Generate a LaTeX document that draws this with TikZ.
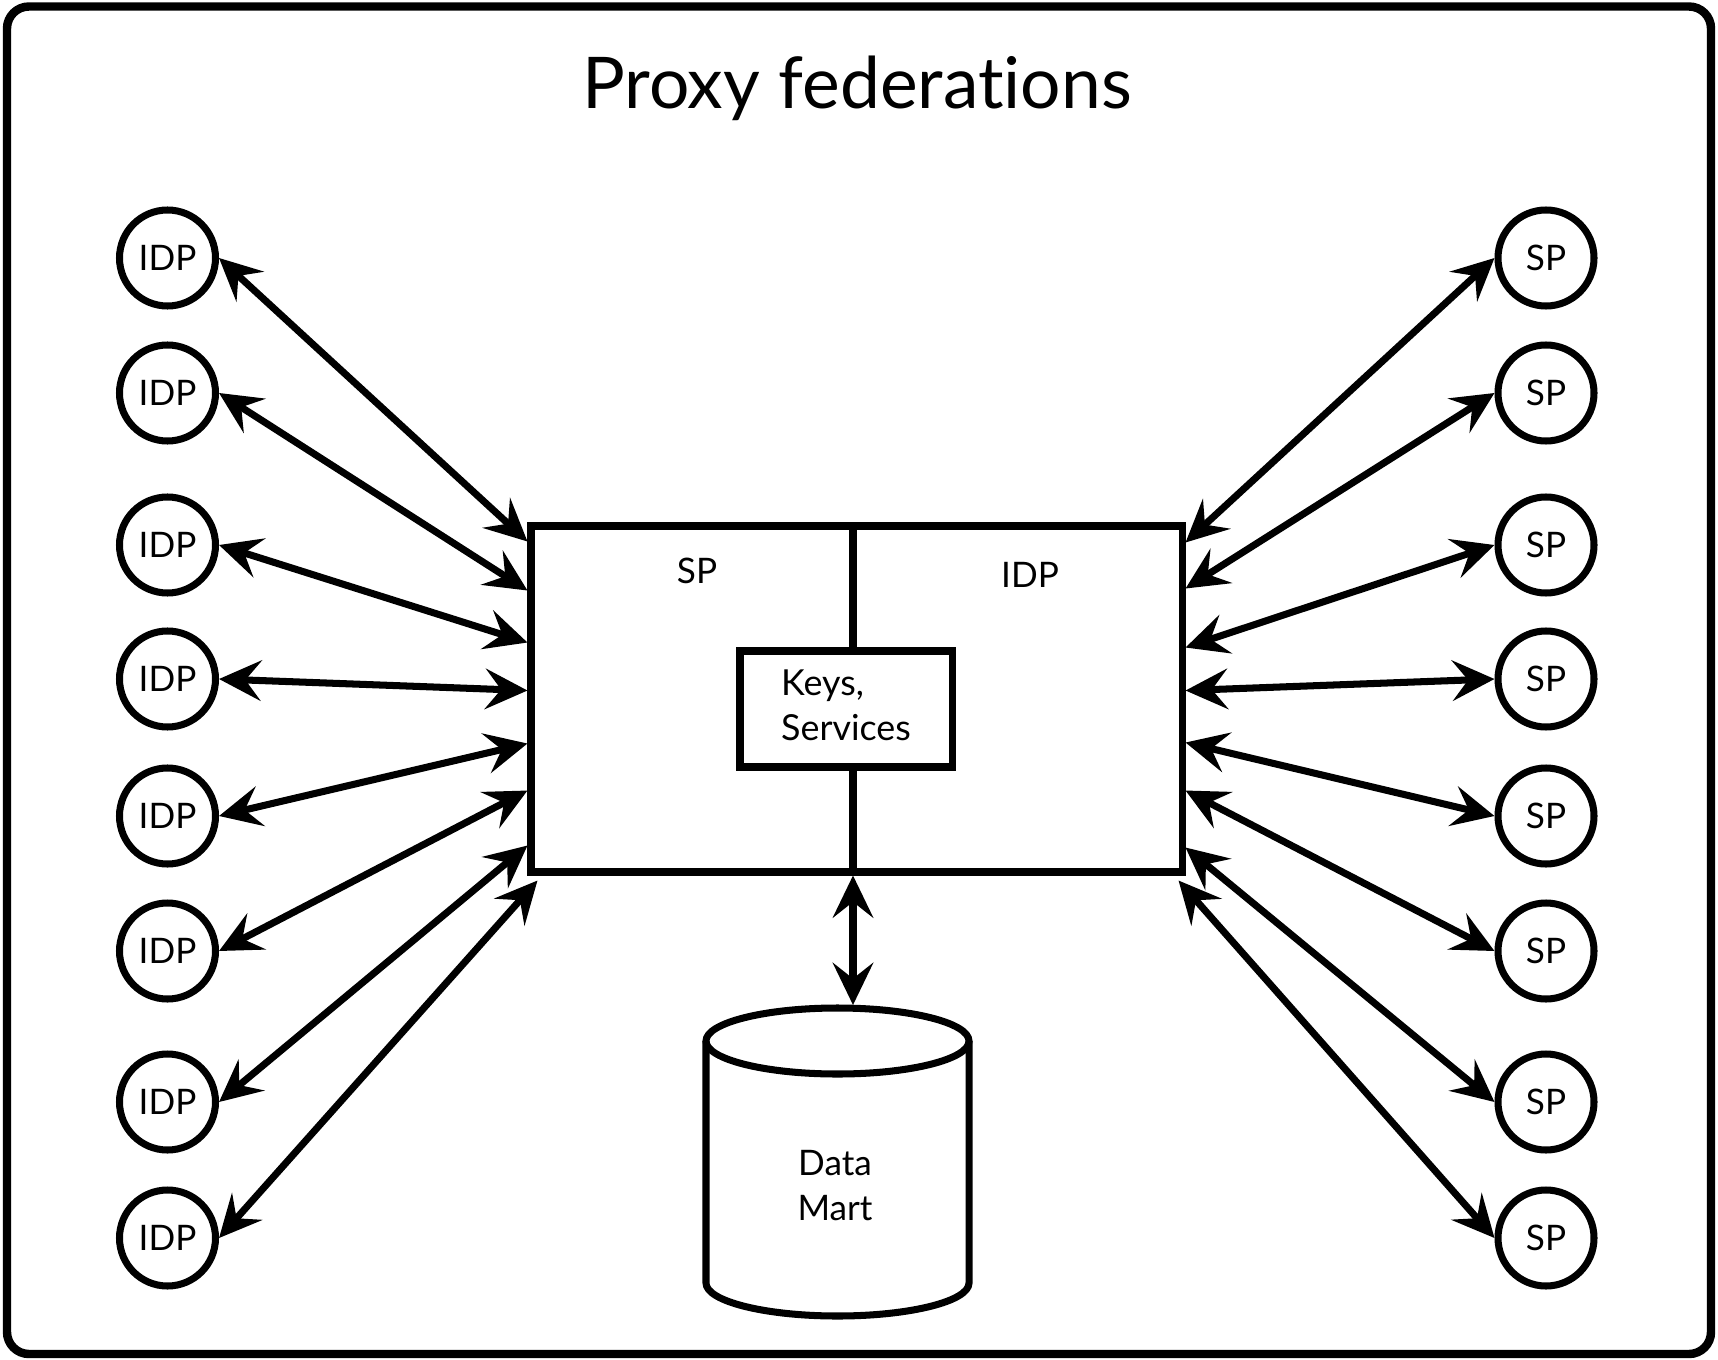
\documentclass[tikz,border=0pt]{standalone}
\usepackage{fontspec}
\setmainfont{Lato}[Ligatures=NoCommon]
\usetikzlibrary{arrows.meta,positioning}

\begin{document}
\begin{tikzpicture}[>={Stealth[length=12pt,width=11.5pt,inset=4.5pt]},line width=2pt,
  party/.style={circle,draw,minimum size=0.96cm,inner sep=0pt,font=\fontsize{10}{12}\selectfont},
  link/.style={<->},
  txt/.style={font=\fontsize{10}{12}\selectfont}]
\useasboundingbox(0,0)rectangle(17.18,-13.6);
\draw[line width=2.4pt,rounded corners=0.22cm](0.07,-0.065)rectangle(17.11,-13.54);
\node[anchor=base,font=\fontsize{20.3}{24}\selectfont](title)at(8.57,-1.09){Proxy federations};
\node[draw,minimum width=6.51cm,minimum height=3.46cm](proxy)at(8.565,-6.99){};
\node[txt,anchor=base](spside)at(6.97,-5.83){SP};
\node[txt,anchor=base](idpside)at(10.30,-5.87){IDP};
\node[draw,align=left,text depth=0.07cm,minimum width=2.12cm,minimum height=1.16cm,font=\fontsize{10.2}{12.8}\selectfont](keys)at(8.46,-7.09){Keys,\\Services};
\coordinate(mid)at(8.53,0);
\draw(proxy.north-|mid)--(keys.north-|mid) (keys.south-|mid)--(proxy.south-|mid);
\draw(8.375,-10.41)ellipse(1.315 and 0.33);
\draw(7.06,-10.41)--(7.06,-12.83)arc(180:360:1.315 and 0.33)--(9.69,-10.41);
\coordinate(martTop)at(8.53,-10.05);
\node[align=center,font=\fontsize{10}{12.8}\selectfont](mart)at(8.35,-11.86){Data\\Mart};
\draw[link](proxy.south-|mid)--(martTop);
\foreach \i/\y in {1/2.58,2/3.93,3/5.45,4/6.79,5/8.16,6/9.51,7/11.02,8/12.38}{
\node[party](idp\i)at(1.675,-\y){IDP};
\node[party](sp\i)at(15.46,-\y){SP};}
\foreach \i/\dx/\dy in {1/0/3.34,2/0/2.85,3/0/2.33,4/0/1.85,5/0/1.32,6/0/0.85,7/0/0.30,8/0.1/-0.05}
\draw[link](idp\i.east)--([shift={(\dx,\dy)}]proxy.south west);
\foreach \i/\dx/\dy in {1/0/3.33,2/0/2.87,3/0/2.28,4/0/1.85,5/0/1.33,6/0/0.85,7/0/0.28,8/-0.07/-0.05}
\draw[link](sp\i.west)--([shift={(\dx,\dy)}]proxy.south east);
\end{tikzpicture}
\end{document}
